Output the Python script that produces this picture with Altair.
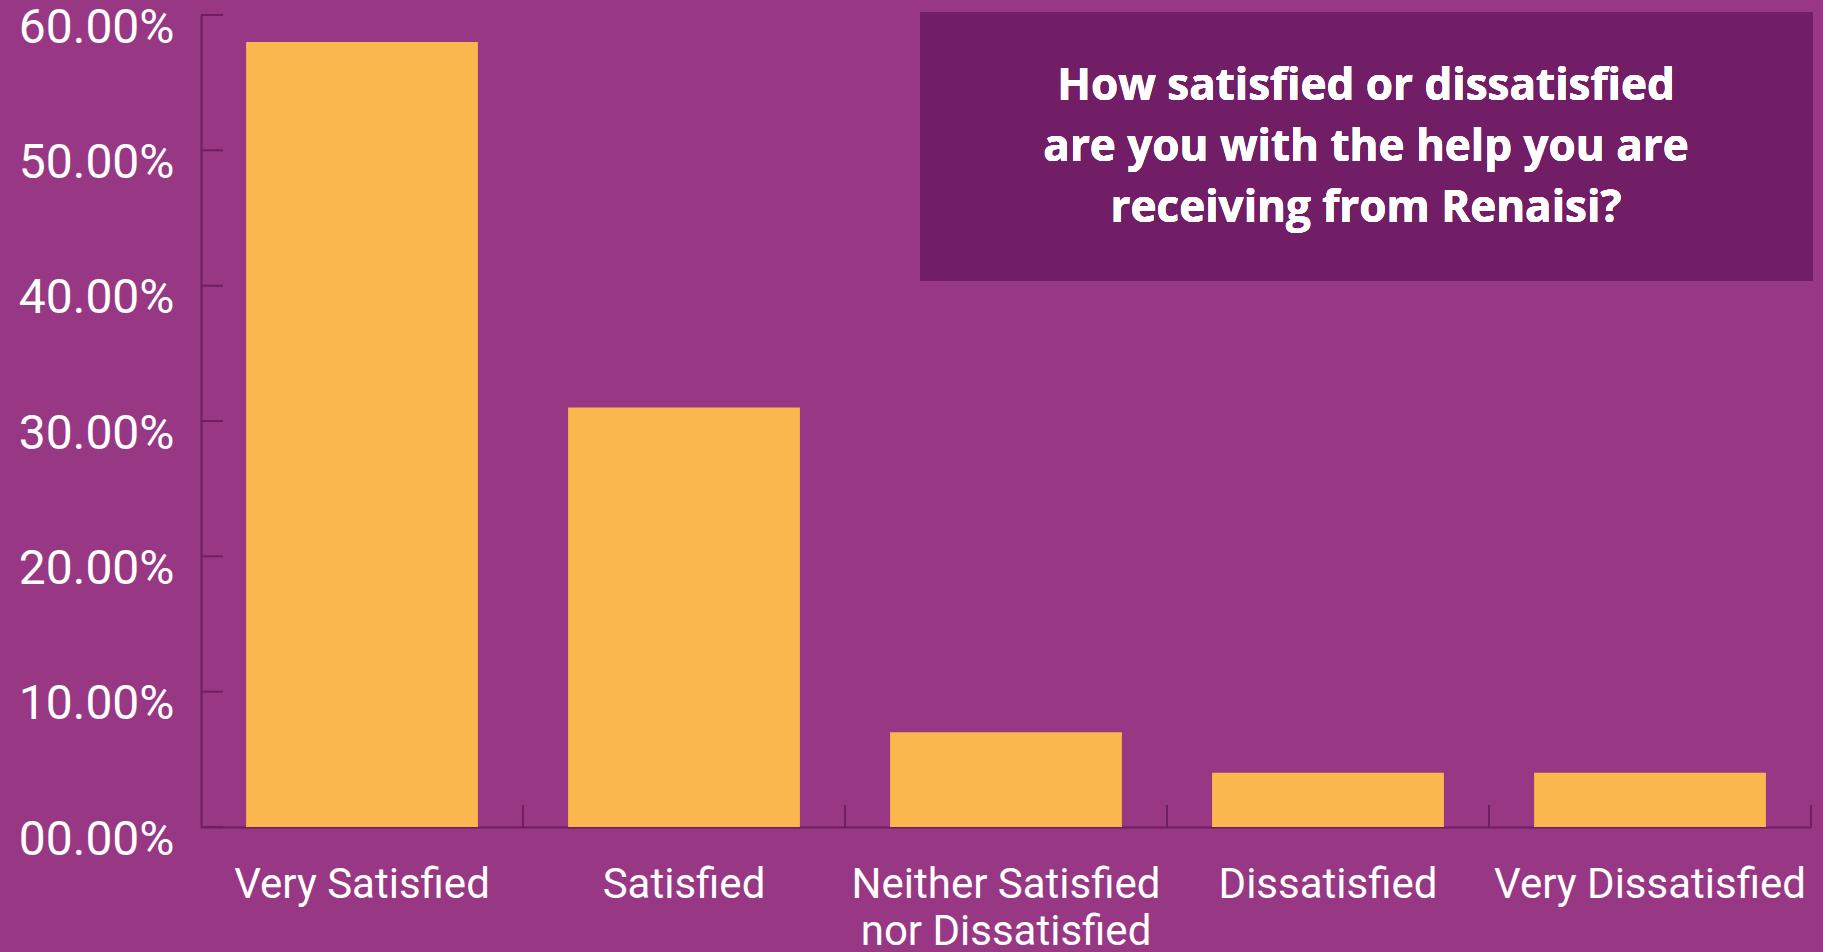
import altair as alt
import pandas as pd

categories = ["Very Satisfied", "Satisfied", "Neither Satisfied nor Dissatisfied",
              "Dissatisfied", "Very Dissatisfied"]
percentages = [58.0, 31.0, 7.0, 4.0, 4.0]
y_ticks = [0, 10, 20, 30, 40, 50, 60]
title_lines = ["How satisfied or dissatisfied",
               "are you with the help you are",
               "receiving from Renaisi?"]

bars_df = pd.DataFrame({"category": categories, "pct": percentages})
ticks_df = pd.DataFrame({"v": y_ticks})

BG = "#983884"
AXIS = "#6d1f62"
BAR = "#f9b74e"
BOX = "#721e66"
FONT = "Roboto"

W, H = 1610, 812
P_IN = 0.28
STEP = W / len(categories)

xscale = alt.Scale(domain=categories, paddingInner=P_IN, paddingOuter=P_IN / 2)
yscale = alt.Scale(domain=[0, 60], nice=False, zero=True)

bars = alt.Chart(bars_df).mark_bar(color=BAR).encode(
    x=alt.X("category:N", sort=categories, scale=xscale, title=None,
            axis=alt.Axis(labelAngle=0, ticks=False, tickSize=0, domain=True,
                          domainColor=AXIS, domainWidth=2,
                          labelColor="white", labelFont=FONT, labelFontSize=42,
                          labelPadding=37, labelBaseline="top",
                          labelLineHeight=47, labelLimit=0,
                          labelExpr="datum.label == 'Neither Satisfied nor Dissatisfied' ? ['Neither Satisfied', 'nor Dissatisfied'] : datum.label")),
    y=alt.Y("pct:Q", scale=yscale, title=None,
            axis=alt.Axis(values=y_ticks, ticks=False, tickSize=0, grid=False,
                          domainColor=AXIS, domainWidth=2,
                          labelColor="white", labelFont=FONT, labelFontSize=48,
                          labelPadding=27, labelOffset=13, labelBaseline="middle",
                          labelOverlap=False, labelFlush=False,
                          labelExpr="format(datum.value, '05.2f') + '%'")),
)

y_tick_rules = alt.Chart(ticks_df).mark_rule(color=AXIS, strokeWidth=2).encode(
    y=alt.Y("v:Q", scale=yscale),
    x=alt.value(0),
    x2=alt.value(22),
)

x_tick_rules = alt.Chart(bars_df).mark_rule(
    color=AXIS, strokeWidth=2, xOffset=STEP * P_IN / 2
).encode(
    x=alt.X("category:N", sort=categories, scale=xscale, bandPosition=1),
    y=alt.value(H - 22),
    y2=alt.value(H),
)

box = alt.Chart(bars_df).mark_rect(color=BOX).encode(
    x=alt.value(719), x2=alt.value(1612),
    y=alt.value(-3), y2=alt.value(266),
)

title_text = alt.Chart(bars_df).mark_text(
    text=title_lines, color="white", font="Open Sans", fontSize=44, fontWeight="bold",
    align="center", baseline="alphabetic", lineHeight=61,
).encode(x=alt.value(1165), y=alt.value(85))

chart = alt.layer(bars, x_tick_rules, y_tick_rules, box, title_text).properties(
    width=W, height=H,
    autosize=alt.AutoSizeParams(type="none"),
    padding={"left": 201, "top": 15, "right": 12, "bottom": 125},
    background=BG,
).configure_view(stroke=None)

chart.save("out.html", embed_options={"renderer": "svg", "actions": False})
